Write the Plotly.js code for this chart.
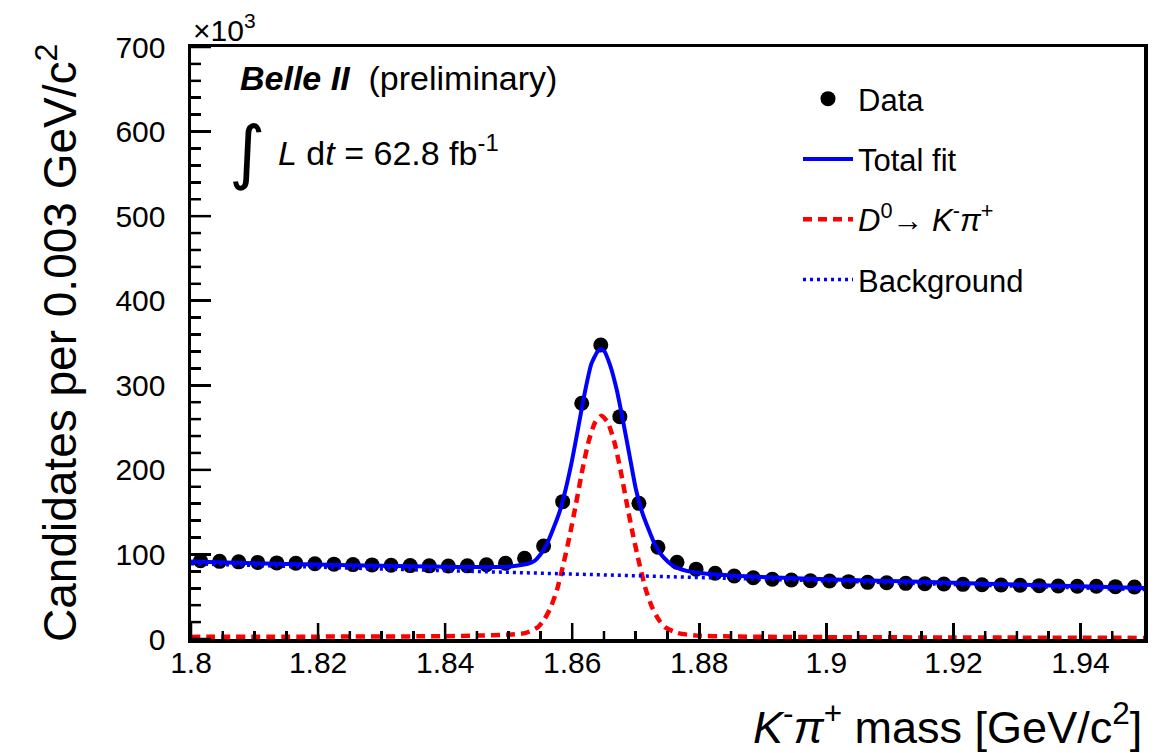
<!DOCTYPE html>
<html>
<head>
<meta charset="utf-8">
<script src="https://cdn.plot.ly/plotly-3.0.1.min.js"></script>
<style>html,body{margin:0;padding:0;background:#fff;}#chart{width:1173px;height:753px;}</style>
</head>
<body>
<div id="chart"></div>
<script>
// Data points: bin centres [GeV/c^2] and candidates (x10^3)
const binCenters = [1.8015,1.8045,1.8075,1.8105,1.8135,1.8165,1.8195,1.8225,1.8255,1.8285,
  1.8315,1.8345,1.8375,1.8405,1.8435,1.8465,1.8495,1.8525,1.8555,1.8585,
  1.8615,1.8645,1.8675,1.8705,1.8735,1.8765,1.8795,1.8825,1.8855,1.8885,
  1.8915,1.8945,1.8975,1.9005,1.9035,1.9065,1.9095,1.9125,1.9155,1.9185,
  1.9215,1.9245,1.9275,1.9305,1.9335,1.9365,1.9395,1.9425,1.9455,1.9485];
const dataCounts = [92.5,91.8,91.2,90.6,90.0,89.5,89.0,88.5,88.0,87.6,
  87.2,86.8,86.5,86.3,86.5,87.8,89.5,95.4,110.0,162.4,
  278.7,347.6,262.9,160.4,108.4,90.7,82.6,77.7,74.5,72.5,
  70.7,69.8,68.9,68.6,67.8,67.0,66.6,65.8,65.4,65.0,
  64.6,64.2,63.9,63.5,63.1,62.7,62.3,62.3,61.9,61.5];

// Total fit curve
const fitX = [1.800,1.810,1.820,1.830,1.840,1.845,1.848,1.850,1.852,1.853,1.854,1.855,1.856,1.857,1.858,1.859,
  1.860,1.861,1.862,1.863,1.864,1.8645,1.865,1.866,1.867,1.868,1.869,1.870,1.871,1.872,1.873,1.874,1.875,1.876,
  1.878,1.880,1.885,1.890,1.900,1.910,1.920,1.930,1.940,1.950];
const totalFit = [91.5,89.6,88.0,86.6,85.4,85.0,85.0,85.5,87.5,89,92,100,112,130,150,178,
  212,252,292,325,340,342.5,341,323,295,258,218,178,150,130,112,100,92,86,
  80.5,78,75,73.3,70.6,68.6,66.5,64.4,62.3,60.2];

// Signal component D0 -> K- pi+
const sigX = [1.800,1.820,1.840,1.845,1.8496,1.8526,1.8546,1.8556,1.8566,1.8576,1.8586,1.8596,1.8606,1.8616,
  1.8626,1.8636,1.8646,1.8656,1.8666,1.8676,1.8686,1.8696,1.8706,1.8716,1.8726,1.8736,1.8746,1.8766,1.8796,
  1.885,1.890,1.900,1.920,1.950];
const signal = [2.5,2.8,3.3,4,5,7,14,23,37,58,88,122,160,200,
  234,256,264,256,234,200,160,122,88,58,37,23,14,7,4,
  3,2.6,2.2,1.8,1.3];

// Background component
const bkgX = [1.80,1.82,1.84,1.86,1.88,1.90,1.92,1.94,1.95];
const background = [89.0,84.9,80.8,76.8,72.7,68.6,64.5,60.4,58.4];

// Tick values / labels
const xTickVals = [1.8,1.82,1.84,1.86,1.88,1.9,1.92,1.94];
const xTickText = ['1.8','1.82','1.84','1.86','1.88','1.9','1.92','1.94'];
const xMinorVals = [1.805,1.81,1.815,1.825,1.83,1.835,1.845,1.85,1.855,1.865,1.87,1.875,
  1.885,1.89,1.895,1.905,1.91,1.915,1.925,1.93,1.935,1.945];
const yTickVals = [0,100,200,300,400,500,600,700];
const yMinorVals = [20,40,60,80,120,140,160,180,220,240,260,280,320,340,360,380,
  420,440,460,480,520,540,560,580,620,640,660,680];

const FONT = 'Liberation Sans, Arial, Helvetica, sans-serif';

const traces = [
  {x: binCenters, y: dataCounts, type: 'scatter', mode: 'markers', name: 'Data', legendgroup: 'a',
   marker: {color: '#000', size: 15}},
  {x: fitX, y: totalFit, type: 'scatter', mode: 'lines', name: 'Total fit', legendgroup: 'b',
   line: {color: '#0000ff', width: 4, shape: 'spline', smoothing: 0.6}},
  {x: sigX, y: signal, type: 'scatter', mode: 'lines', legendgroup: 'c',
   name: '<i>D</i><sup>0</sup>\u2192 <i>K</i><sup>-</sup><i>\u03c0</i><sup>+</sup>',
   line: {color: '#ff0000', width: 4.5, dash: '9px,6px', shape: 'spline', smoothing: 0.6}},
  {x: bkgX, y: background, type: 'scatter', mode: 'lines', name: 'Background', legendgroup: 'd',
   line: {color: '#0000ff', width: 3.5, dash: '3px,4px', shape: 'spline'}}
];

// Tick marks drawn inside the frame, placed through the axis scales
const tickLine = {color: '#000', width: 2.5};
const xTick = (v, len) => ({type: 'line', layer: 'above', xref: 'x', yref: 'paper', x0: v, x1: v,
  ysizemode: 'pixel', yanchor: 0, y0: 0, y1: len, line: tickLine});
const yTick = (v, len) => ({type: 'line', layer: 'above', xref: 'paper', yref: 'y', y0: v, y1: v,
  xsizemode: 'pixel', xanchor: 0, x0: 0, x1: len, line: tickLine});
const tickShapes = [].concat(
  xTickVals.map(v => xTick(v, 16)), xMinorVals.map(v => xTick(v, 8)),
  yTickVals.map(v => yTick(v, 20)), yMinorVals.map(v => yTick(v, 10)));

const PL = 191, PR = 1144, PT = 47, PB = 639;
const W = 1173, H = 753;
const px = v => (v - PL) / (PR - PL);
const py = v => (PB - v) / (PB - PT);

const layout = {
  width: W, height: H,
  margin: {l: PL, r: W - PR, t: PT, b: H - PB, pad: 0, autoexpand: false},
  paper_bgcolor: '#fff', plot_bgcolor: 'rgba(0,0,0,0)',
  showlegend: true,
  legend: {x: px(798), y: py(72), xanchor: 'left', yanchor: 'top', bgcolor: 'rgba(0,0,0,0)',
    font: {family: FONT, size: 31, color: '#000'}, tracegroupgap: 17, traceorder: 'grouped', itemwidth: 50},
  xaxis: {range: [1.8, 1.95], tickvals: xTickVals, ticktext: xTickText,
    ticks: 'inside', ticklen: 16, tickwidth: 2.5, tickcolor: '#000',
    minor: {dtick: 0.005, tick0: 1.8, ticks: 'inside', ticklen: 8, tickwidth: 2.5, tickcolor: '#000', showgrid: false},
    showline: true, linewidth: 3.5, linecolor: '#000', mirror: true, showgrid: false, zeroline: false,
    tickfont: {family: FONT, size: 30, color: '#000'}, ticklabelstandoff: -6},
  yaxis: {range: [0, 700], tickvals: yTickVals,
    ticks: 'inside', ticklen: 20, tickwidth: 2.5, tickcolor: '#000',
    minor: {dtick: 20, tick0: 0, ticks: 'inside', ticklen: 10, tickwidth: 2.5, tickcolor: '#000', showgrid: false},
    showline: true, linewidth: 3.5, linecolor: '#000', mirror: true, showgrid: false, zeroline: false,
    tickfont: {family: FONT, size: 30, color: '#000'}, ticklabelstandoff: 16},
  shapes: tickShapes,
  annotations: [
    {xref: 'paper', yref: 'paper', x: 0, y: 1, xanchor: 'left', yanchor: 'bottom', showarrow: false,
     text: '\u00d710<sup>3</sup>', font: {family: FONT, size: 30, color: '#000'}, yshift: -2},
    {xref: 'paper', yref: 'paper', x: px(238), y: py(78), xanchor: 'left', yanchor: 'middle', showarrow: false,
     text: '<b><i>Belle II</i></b>  (preliminary)', font: {family: FONT, size: 34, color: '#000'}},
    {xref: 'paper', yref: 'paper', x: px(247), y: py(152), xanchor: 'center', yanchor: 'middle', showarrow: false,
     text: '\u222b', font: {family: 'DejaVu Sans, ' + FONT, size: 70, color: '#000'}},
    {xref: 'paper', yref: 'paper', x: px(276), y: py(150), xanchor: 'left', yanchor: 'middle', showarrow: false,
     text: '<i>L</i> d<i>t</i> = 62.8 fb<sup>-1</sup>', font: {family: FONT, size: 34, color: '#000'}},
    {xref: 'paper', yref: 'paper', x: 1, y: py(724), xanchor: 'right', yanchor: 'middle', showarrow: false,
     text: '<i>K</i><sup>-</sup><i>\u03c0</i><sup>+</sup> mass [GeV/c<sup>2</sup>]', font: {family: FONT, size: 45, color: '#000'}},
    {xref: 'paper', yref: 'paper', x: px(57), y: 0.5, xanchor: 'center', yanchor: 'middle', showarrow: false, textangle: -90,
     text: 'Candidates per 0.003 GeV/c<sup>2</sup>', font: {family: FONT, size: 46, color: '#000'}}
  ]
};

Plotly.newPlot('chart', traces, layout, {displayModeBar: false, staticPlot: true});
</script>
</body>
</html>
